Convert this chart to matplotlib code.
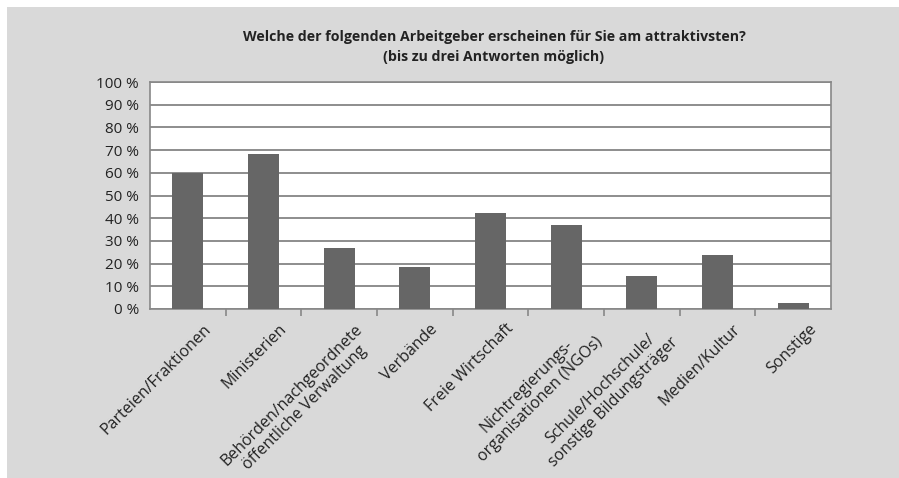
import numpy as np
import matplotlib
matplotlib.use('Agg')
import matplotlib.pyplot as plt
from matplotlib.patches import Rectangle
import matplotlib.transforms as mtrans

# data (percent)
categories = ['Parteien/Fraktionen', 'Ministerien', 'Behörden/nachgeordnete\nöffentliche Verwaltung',
              'Verbände', 'Freie Wirtschaft', 'Nichtregierungs-\norganisationen (NGOs)',
              'Schule/Hochschule/\nsonstige Bildungsträger', 'Medien/Kultur', 'Sonstige']
values = [60, 68.3, 26.8, 18.5, 42.3, 37, 14.5, 23.8, 2.6]
yticks = list(range(0, 101, 10))

plt.rcParams['font.family'] = ['Open Sans', 'DejaVu Sans']

W, H = 899, 478
fig = plt.figure(figsize=(W / 100, H / 100), dpi=100)
fig.patch.set_facecolor('#d9d9d9')
# small white margin top and left
fig.patches.append(Rectangle((0, 1 - 7 / H), 1, 7 / H, transform=fig.transFigure,
                             facecolor='white', edgecolor='none', zorder=-1))
fig.patches.append(Rectangle((0, 0), 7 / W, 1, transform=fig.transFigure,
                             facecolor='white', edgecolor='none', zorder=-1))

left, right, top, bottom = 150, 831, 82, 309
ax = fig.add_axes([left / W, 1 - bottom / H, (right - left) / W, (bottom - top) / H])
ax.set_facecolor('white')

x = np.arange(len(categories))
ax.bar(x, values, width=0.41, color='#666666', zorder=3)

ax.set_xlim(-0.5, len(categories) - 0.5)
ax.set_ylim(0, 100)
ax.set_yticks(yticks)
ax.set_yticklabels([f'{v} %' for v in yticks], fontsize=11, color='#222222')
ax.tick_params(axis='y', length=0, pad=8)
ax.grid(axis='y', color='#7a7a7a', linewidth=1.2, zorder=1)
for s in ax.spines.values():
    s.set_color('#888888')
    s.set_linewidth(1.2)

# tick marks between categories
ax.set_xticks(np.arange(0.5, len(categories) - 0.5, 1.0))
ax.set_xticklabels([])
ax.tick_params(axis='x', length=5, color='#888888', width=1.2, direction='out')

offset = mtrans.ScaledTranslation(15 / 100, -12 / 100, fig.dpi_scale_trans)
for xi, lab in zip(x, categories):
    ax.text(xi, 0, lab, rotation=45, ha='right', va='top', rotation_mode='anchor',
            multialignment='center', fontsize=11.5, color='#222222',
            linespacing=1.2, transform=ax.get_xaxis_transform() + offset)

fig.text(494 / W, 1 - 37 / H, 'Welche der folgenden Arbeitgeber erscheinen für Sie am attraktivsten?',
         ha='center', va='center', fontsize=10.2, fontweight='bold', color='#222222')
fig.text(494 / W, 1 - 57 / H, '(bis zu drei Antworten möglich)',
         ha='center', va='center', fontsize=10.2, fontweight='bold', color='#222222')

fig.savefig('out.png', dpi=100)
